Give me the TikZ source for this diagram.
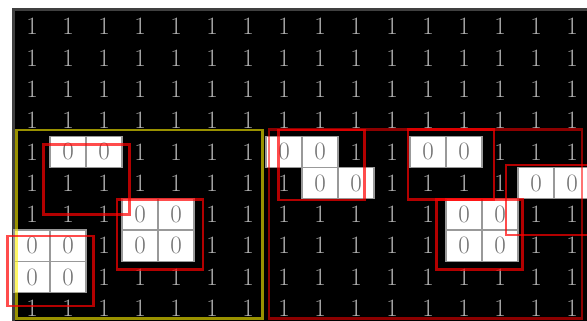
\documentclass[tikz,border=0pt]{standalone}
\usetikzlibrary{positioning}

% cells that hold a 0 (row-column)
\foreach \p in {4-1,4-2,6-3,6-4,7-3,7-4,7-0,7-1,8-0,8-1,4-7,4-8,5-8,5-9,4-11,4-12,5-14,5-15,6-12,6-13,7-12,7-13}
  {\expandafter\gdef\csname zc\p\endcsname{}}

\begin{document}
\begin{tikzpicture}[x=1pt, y=-1pt,
    one/.style={minimum width=36pt, minimum height=31.3pt, inner sep=0pt, text=black!30, font=\fontsize{25}{25}\selectfont},
    zero/.style={one, fill=white, draw=black!40, line width=1.2pt, text=black!55},
    win/.style={draw=red, draw opacity=0.7, line width=2.5pt},
]
    \useasboundingbox (0,0) rectangle (587,321);
    \clip (0,0) rectangle (587,321);
    \draw[fill=black, draw=black!75, line width=2.5pt] (13.5,9.5) rectangle (600,340);
    \foreach \r in {0,...,9}
      \foreach \c in {0,...,15}{
        \ifcsname zc\r-\c\endcsname
          \node[zero] (cell-\r-\c) at ({32+36*\c},{26.6+31.3*\r}) {0};
        \else
          \node[one] (cell-\r-\c) at ({32+36*\c},{26.6+31.3*\r}) {1};
        \fi
      }
    % windows
    \draw[draw=yellow, draw opacity=0.6, line width=2.5pt] (16.5,130) rectangle (262.5,318.5);
    \draw[win, draw opacity=0.55] (269,129.5) rectangle (582,318.5);
    \foreach \x/\y in {43.5/144.5, 117/199.5, 7.5/236, 278.5/130, 408/129.5, 506/165, 436.5/199.5}
      \draw[win] (\x,\y) rectangle ++(86,70);
\end{tikzpicture}
\end{document}
